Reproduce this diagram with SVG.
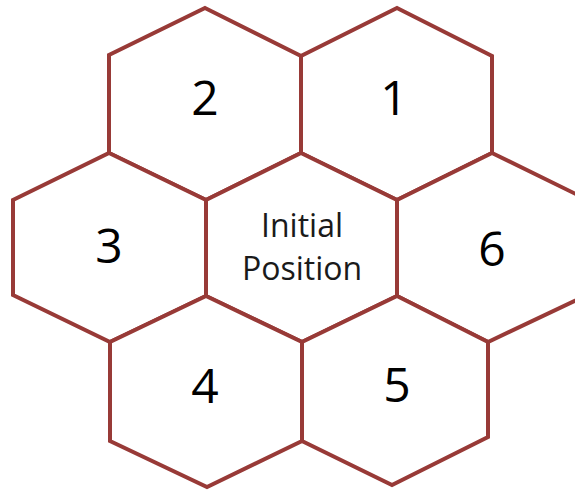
<svg xmlns="http://www.w3.org/2000/svg" width="575" height="490" viewBox="0 0 575 490">
  <style>
    .hex { fill: #ffffff; stroke: #983a37; stroke-width: 4; stroke-linejoin: miter; }
    .num { font-family: "Open Sans", "Liberation Sans", sans-serif; font-size: 48px; fill: #000000; text-anchor: middle; }
    .lbl { font-family: "Open Sans", "Liberation Sans", sans-serif; font-size: 32px; fill: #1a1a1a; text-anchor: middle; }
  </style>
  <rect width="575" height="490" fill="#ffffff"/>
  <g id="cell-2">
    <polygon class="hex" points="205,8 301,56 301,153 206,200 109,153 109,55"/>
    <text class="num" x="205" y="115">2</text>
  </g>
  <g id="cell-1">
    <polygon class="hex" points="397,8 492,56 492,153 397,200 301,153 301,56"/>
    <text class="num" x="394" y="115">1</text>
  </g>
  <g id="cell-3">
    <polygon class="hex" points="109,153 206,200 206,296 110,342 13,295 13,200"/>
    <text class="num" x="109" y="263">3</text>
  </g>
  <g id="cell-initial">
    <polygon class="hex" points="301,153 397,200 397,296 302,342 206,296 206,200"/>
    <text class="lbl" x="302" y="237">Initial</text>
    <text class="lbl" x="302" y="280">Position</text>
  </g>
  <g id="cell-6">
    <polygon class="hex" points="492,153 588,200 585,296 488,342 397,296 397,200"/>
    <text class="num" x="492" y="266">6</text>
  </g>
  <g id="cell-4">
    <polygon class="hex" points="206,296 302,342 302,441 207,487 110,441 110,342"/>
    <text class="num" x="205" y="403">4</text>
  </g>
  <g id="cell-5">
    <polygon class="hex" points="397,296 488,342 488,437 392,485 302,441 302,342"/>
    <text class="num" x="397" y="402">5</text>
  </g>
  <g id="connectors"/>
</svg>
